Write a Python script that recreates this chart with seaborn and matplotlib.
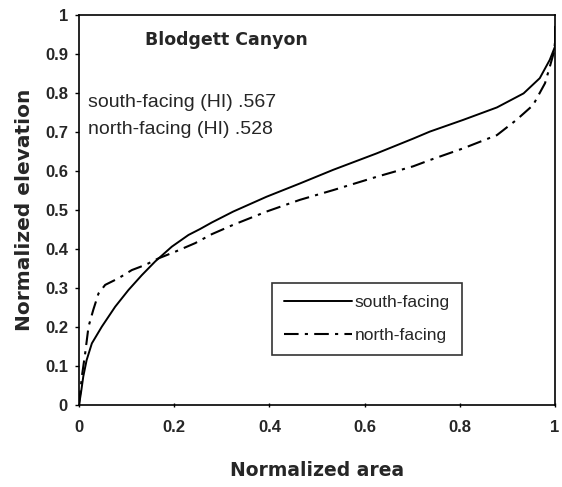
import matplotlib
matplotlib.use("Agg")
import matplotlib.pyplot as plt
import seaborn as sns
import pandas as pd
from matplotlib.lines import Line2D

south_x = [0, 0.004, 0.009, 0.016, 0.027, 0.048, 0.076, 0.104, 0.132, 0.160, 0.195, 0.230, 0.254,
           0.279, 0.324, 0.394, 0.464, 0.534, 0.625, 0.702, 0.737, 0.807, 0.878, 0.934, 0.968,
           0.989, 1.0, 1.0]
south_y = [0, 0.03, 0.073, 0.115, 0.158, 0.201, 0.252, 0.295, 0.333, 0.368, 0.406, 0.436, 0.451,
           0.468, 0.496, 0.534, 0.568, 0.603, 0.645, 0.683, 0.701, 0.731, 0.763, 0.799, 0.838,
           0.885, 0.919, 0.97]

north_x = [0, 0.006, 0.013, 0.020, 0.030, 0.041, 0.055, 0.083, 0.111, 0.139, 0.167, 0.202, 0.244,
           0.279, 0.324, 0.394, 0.464, 0.534, 0.625, 0.702, 0.737, 0.807, 0.878, 0.919, 0.954,
           0.979, 0.989, 0.998, 1.0]
north_y = [0, 0.073, 0.133, 0.201, 0.244, 0.286, 0.308, 0.325, 0.346, 0.359, 0.376, 0.393, 0.415,
           0.438, 0.462, 0.496, 0.526, 0.551, 0.585, 0.612, 0.628, 0.658, 0.692, 0.731, 0.769,
           0.825, 0.867, 0.906, 0.93]

x_ticks = [0, 0.2, 0.4, 0.6, 0.8, 1]
x_ticklabels = ["0", "0.2", "0.4", "0.6", "0.8", "1"]
y_ticks = [0, 0.1, 0.2, 0.3, 0.4, 0.5, 0.6, 0.7, 0.8, 0.9, 1]
y_ticklabels = ["0", "0.1", "0.2", "0.3", "0.4", "0.5", "0.6", "0.7", "0.8", "0.9", "1"]

sns.set_style("ticks")
plt.rcParams["font.family"] = ["Liberation Sans", "DejaVu Sans"]

fig = plt.figure(figsize=(5.62, 4.87), dpi=100)
ax = fig.add_axes([79/562, 82/487, 476/562, 390/487])

south = pd.DataFrame({"x": south_x, "y": south_y})
north = pd.DataFrame({"x": north_x, "y": north_y})
dashdot = (0, (7, 3, 1.5, 3))
sns.lineplot(data=south, x="x", y="y", ax=ax, color="black", lw=1.4, sort=False, estimator=None)
sns.lineplot(data=north, x="x", y="y", ax=ax, color="black", lw=1.5, sort=False, estimator=None,
             linestyle=dashdot)

ax.set_xlim(0, 1)
ax.set_ylim(0, 1)
ax.set_xticks(x_ticks)
ax.set_xticklabels(x_ticklabels, fontsize=12, fontweight="bold")
ax.set_yticks(y_ticks)
ax.set_yticklabels(y_ticklabels, fontsize=12, fontweight="bold")
ax.tick_params(axis="both", length=3, width=1, color="black", pad=5)
ax.tick_params(axis="x", direction="inout", pad=9)
for s in ax.spines.values():
    s.set_visible(True)
    s.set_color("black")
    s.set_linewidth(1.2)

bold_font = ["DejaVu Sans"]
ax.set_xlabel("Normalized area", fontsize=13.5, fontweight="bold", family=bold_font, labelpad=19)
ax.set_ylabel("Normalized elevation", fontsize=14.5, fontweight="bold", family=bold_font, labelpad=8)

ax.text(0.139, 0.937, "Blodgett Canyon", fontsize=12.5, fontweight="bold", family=bold_font,
        va="center", ha="left")
ax.text(0.019, 0.776, "south-facing (HI) .567", fontsize=14, va="center", ha="left")
ax.text(0.019, 0.706, "north-facing (HI) .528", fontsize=14, va="center", ha="left")

handles = [Line2D([], [], color="black", lw=1.4),
           Line2D([], [], color="black", lw=1.5, linestyle=dashdot)]
leg = ax.legend(handles, ["south-facing", "north-facing"], loc="upper left",
                bbox_to_anchor=((272-79)/476, (405-283)/390), fontsize=12.5,
                frameon=True, fancybox=False, edgecolor="black", handlelength=3.9,
                handletextpad=0.15, borderpad=0.7, labelspacing=1.0, borderaxespad=0)
leg.get_frame().set_linewidth(1.2)

fig.savefig("out.png", dpi=100)
